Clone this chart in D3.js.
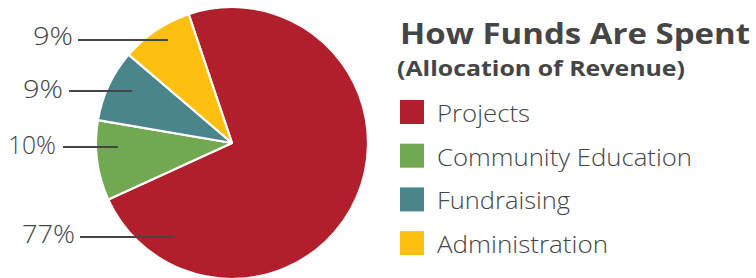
<!DOCTYPE html>
<html><head><meta charset="utf-8">
<script src="https://cdn.jsdelivr.net/npm/d3@7"></script>
<style>html,body{margin:0;padding:0;background:#fff;}svg{display:block;}</style>
</head><body>
<svg id="chart" width="756" height="278"></svg>
<script>
// ---- data ----
const categories = ["Projects", "Community Education", "Fundraising", "Administration"];
const values = [77, 10, 9, 9];
const valueLabels = ["77%", "10%", "9%", "9%"];
const colors = ["#b01f2b", "#72a850", "#4b858c", "#fdc010"];
const title = "How Funds Are Spent";
const subtitle = "(Allocation of Revenue)";

// ---- layout (not data) ----
const cx = 232, cy = 143, R = 136;
const startDeg = -18.6;
const labelLayout = [
  {tx: 75, ty: 243, w: 53, lx1: 80, lx2: 174, ly: 237},
  {tx: 56, ty: 154, w: 48, lx1: 63, lx2: 118, ly: 147},
  {tx: 63, ty: 98,  w: 40, lx1: 69, lx2: 132, ly: 91},
  {tx: 73, ty: 45,  w: 40, lx1: 78, lx2: 168, ly: 40}
];

const svg = d3.select("#chart");
const color = d3.scaleOrdinal().domain(categories).range(colors);

const pie = d3.pie().sort(null).value(d => d.v)
  .startAngle(startDeg * Math.PI / 180)
  .endAngle(startDeg * Math.PI / 180 + 2 * Math.PI);
const arc = d3.arc().innerRadius(0).outerRadius(R);
const rows = categories.map((c, i) => ({c, v: values[i], label: valueLabels[i], i}));

const g = svg.append("g").attr("transform", `translate(${cx},${cy})`);
g.selectAll("path").data(pie(rows)).join("path")
  .attr("d", arc)
  .attr("fill", d => color(d.data.c))
  .attr("stroke", "#fff")
  .attr("stroke-width", 2.2)
  .attr("stroke-linejoin", "round");

// labels
const lab = svg.append("g");
rows.forEach((d, i) => {
  const L = labelLayout[i];
  lab.append("line").attr("x1", L.lx1).attr("x2", L.lx2).attr("y1", L.ly).attr("y2", L.ly)
    .attr("stroke", "#454545").attr("stroke-width", 1.8);
  lab.append("text").attr("x", L.tx).attr("y", L.ty)
    .attr("text-anchor", "end")
    .attr("font-family", "'Open Sans', sans-serif").attr("font-weight", 300)
    .attr("font-size", 26.5).attr("fill", "#454545")
    .attr("textLength", L.w).attr("lengthAdjust", "spacingAndGlyphs")
    .text(d.label);
});

// title
svg.append("text").attr("x", 400).attr("y", 44)
  .attr("font-family", "'Open Sans', sans-serif").attr("font-weight", 700)
  .attr("font-size", 28.5).attr("fill", "#454545")
  .attr("textLength", 350).attr("lengthAdjust", "spacingAndGlyphs")
  .text(title);
svg.append("text").attr("x", 397).attr("y", 76)
  .attr("font-family", "'Open Sans', sans-serif").attr("font-weight", 700)
  .attr("font-size", 22).attr("fill", "#454545")
  .attr("textLength", 288).attr("lengthAdjust", "spacingAndGlyphs")
  .text(subtitle);

// legend
const legendWidths = [93, 255, 133, 171];
const leg = svg.append("g");
rows.forEach((d, i) => {
  const y0 = 100 + i * 43.7;
  leg.append("rect").attr("x", 400).attr("y", y0).attr("width", 24).attr("height", 24)
    .attr("fill", color(d.c));
  leg.append("text").attr("x", 437).attr("y", y0 + 22)
    .attr("font-family", "'Open Sans', sans-serif").attr("font-weight", 300)
    .attr("font-size", 24).attr("fill", "#454545")
    .attr("textLength", legendWidths[i]).attr("lengthAdjust", "spacingAndGlyphs")
    .text(d.c);
});
</script>
</body></html>
